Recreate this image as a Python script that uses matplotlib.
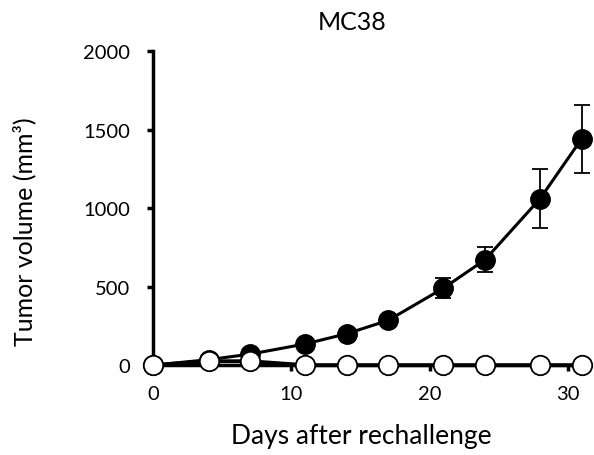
import matplotlib
matplotlib.use("Agg")
import matplotlib.pyplot as plt

plt.rcParams['font.family'] = ['Lato', 'DejaVu Sans']

days = [0, 4, 7, 11, 14, 17, 21, 24, 28, 31]
control = [0, 35, 70, 135, 200, 285, 490, 670, 1060, 1440]
control_err = [0, 0, 0, 0, 0, 0, 65, 80, 190, 215]
rechallenged = [0, 25, 25, 0, 0, 0, 0, 0, 0, 0]

fig = plt.figure(figsize=(5.94, 4.56), dpi=100)
ax = fig.add_axes([0.258, 0.197, 0.735, 0.689])

ax.errorbar(days, control, yerr=control_err, color='black',
            lw=2.2, marker='o', ms=14, mfc='black', mec='black',
            ecolor='black', elinewidth=1.3, capsize=6, capthick=1.3, clip_on=False, zorder=3)
ax.plot(days, rechallenged, color='black', lw=2.8, marker='o', ms=14,
        mfc='white', mec='black', mew=1.3, clip_on=False, zorder=4)

ax.set_xlim(0, 31.6)
ax.set_ylim(0, 2000)
ax.set_xticks([0, 10, 20, 30])
ax.set_yticks([0, 500, 1000, 1500, 2000])
ax.tick_params(direction='out', length=4.5, width=2.5, labelsize=14.5)
ax.tick_params(axis='y', pad=12)
ax.tick_params(axis='x', pad=10)
for s in ['top', 'right']:
    ax.spines[s].set_visible(False)
for s in ['left', 'bottom']:
    ax.spines[s].set_linewidth(2.5)

fig.text(352 / 594, 1 - 22 / 456, 'MC38', fontsize=18, ha='center', va='center')
fig.text(361 / 594, 1 - 437 / 456, 'Days after rechallenge', fontsize=19, ha='center', va='center')
fig.text(24 / 594, 1 - 232 / 456, 'Tumor volume (mm³)', fontsize=18, ha='center', va='center',
         rotation=90)

fig.savefig('out.png', dpi=100)
